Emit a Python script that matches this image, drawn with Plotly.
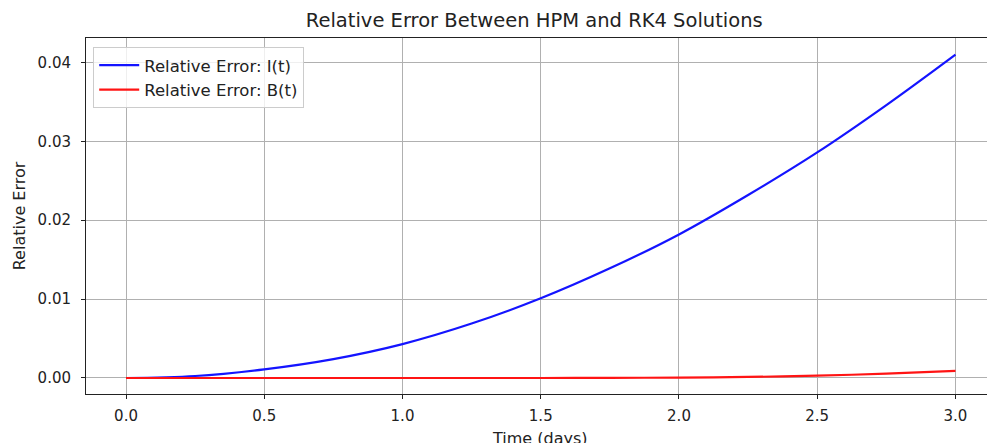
import plotly.graph_objects as go

time_days = [0.0, 0.25, 0.5, 0.75, 1.0, 1.25, 1.5, 1.75, 2.0, 2.25, 2.5, 2.75, 3.0]
rel_err_I = [0.0, 0.00025, 0.0011, 0.0024, 0.0043, 0.0069, 0.0101, 0.0139,
             0.0182, 0.0232, 0.0286, 0.0346, 0.0410]
rel_err_B = [0.0, 0.0, 0.0, 0.0, 0.0, 0.0, 0.0, 0.00002,
             0.00005, 0.00013, 0.00029, 0.00055, 0.00090]

x_ticks = [0.0, 0.5, 1.0, 1.5, 2.0, 2.5, 3.0]
x_tick_labels = ["0.0", "0.5", "1.0", "1.5", "2.0", "2.5", "3.0"]
y_ticks = [0.0, 0.01, 0.02, 0.03, 0.04]
y_tick_labels = ["0.00", "0.01", "0.02", "0.03", "0.04"]

FONT = "DejaVu Sans"

fig = go.Figure()
fig.add_trace(go.Scatter(x=time_days, y=rel_err_I, mode="lines",
                         name="Relative Error: I(t)",
                         line=dict(color="#1414ff", width=2.2, shape="spline")))
fig.add_trace(go.Scatter(x=time_days, y=rel_err_B, mode="lines",
                         name="Relative Error: B(t)",
                         line=dict(color="#ff1414", width=2.2, shape="spline",
                                   smoothing=0.6)))

axis_common = dict(
    showgrid=True, gridcolor="#b0b0b0", gridwidth=0.8,
    showline=True, linecolor="#222222", linewidth=1,
    ticks="outside", ticklen=4, tickwidth=1, tickcolor="#222222",
    zeroline=False, automargin=False,
    tickfont=dict(family=FONT, size=15, color="#222222"),
)

fig.update_layout(
    width=987, height=443,
    margin=dict(l=86, r=0, t=38, b=49),
    plot_bgcolor="white", paper_bgcolor="white",
    font=dict(family=FONT, color="#222222"),
    title=dict(text="Relative Error Between HPM and RK4 Solutions",
               x=0.5413, xanchor="center", y=0.955, yanchor="middle",
               font=dict(family=FONT, size=19.5, color="#222222")),
    showlegend=True,
    legend=dict(x=0.008, y=0.975, xanchor="left", yanchor="top",
                bgcolor="rgba(255,255,255,0.8)", bordercolor="#cccccc",
                borderwidth=1, font=dict(family=FONT, size=16.5, color="#222222"),
                tracegroupgap=0, itemwidth=40),
)

fig.update_xaxes(range=[-0.1447, 3.114], tickvals=x_ticks, ticktext=x_tick_labels,
                 mirror=True, ticklabelstandoff=4,
                 **axis_common)
fig.update_yaxes(range=[-0.00203, 0.04310], tickvals=y_ticks, ticktext=y_tick_labels,
                 ticklabelstandoff=7,
                 title=dict(text="Relative Error", standoff=7,
                            font=dict(family=FONT, size=16, color="#222222")),
                 **axis_common)

# x-axis title (sits partly below the visible window, as in the reference)
fig.add_annotation(text="Time (days)", xref="paper", yref="paper",
                   x=0.504, y=0, xanchor="center", yanchor="top",
                   yshift=-33, showarrow=False,
                   font=dict(family=FONT, size=16, color="#222222"))

fig.write_html("out.html", config={"displayModeBar": False},
               post_script="document.body.style.margin='0';")
